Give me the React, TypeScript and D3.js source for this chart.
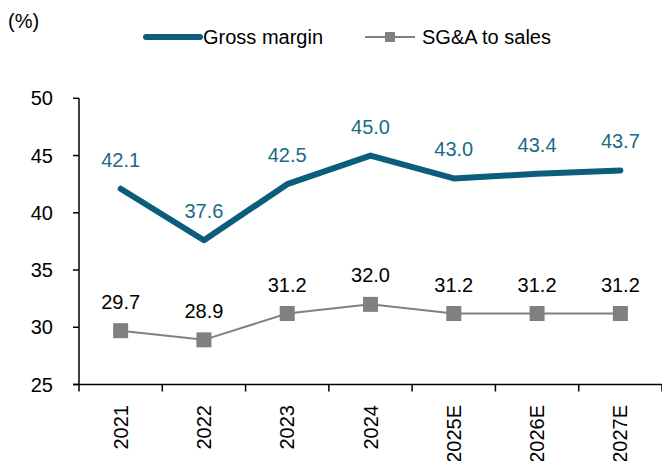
import React from "react";
import * as d3 from "d3";

const categories = ["2021", "2022", "2023", "2024", "2025E", "2026E", "2027E"];
const grossMargin = [42.1, 37.6, 42.5, 45.0, 43.0, 43.4, 43.7];
const sgaToSales = [29.7, 28.9, 31.2, 32.0, 31.2, 31.2, 31.2];
const yTicks = [25, 30, 35, 40, 45, 50];

const W = 662;
const H = 461;
const FONT = "'Liberation Sans', Arial, sans-serif";
const TEAL = "#0b5e7b";
const TEAL_LABEL = "#1b6a86";
const GRAY = "#808080";

export default function App() {
  const left = 79;
  const right = 662;
  const top = 98.3;
  const bottom = 384.5;

  const x = d3.scaleBand<string>().domain(categories).range([left, right]);
  const y = d3.scaleLinear().domain([25, 50]).range([bottom, top]);
  const cx = (c: string) => (x(c) as number) + x.bandwidth() / 2;

  const line = d3
    .line<number>()
    .x((_, i) => cx(categories[i]))
    .y((d) => y(d));

  const boundaries = categories.map((c) => x(c) as number).concat([right]);

  return (
    <svg
      width={W}
      height={H}
      style={{ position: "absolute", left: 0, top: 0, background: "#fff" }}
      fontFamily={FONT}
    >
      {/* unit label */}
      <text x={8} y={28} fontSize={20} fill="#000">(%)</text>

      {/* legend */}
      <line x1={146} x2={200} y1={37} y2={37} stroke={TEAL} strokeWidth={6} strokeLinecap="round" />
      <text x={203} y={37} dy="0.35em" fontSize={20} fill="#000">Gross margin</text>
      <line x1={365} x2={415} y1={37} y2={37} stroke={GRAY} strokeWidth={2} />
      <rect x={385} y={32} width={10} height={10} fill={GRAY} />
      <text x={422} y={37} dy="0.35em" fontSize={20} fill="#000">SG&amp;A to sales</text>

      {/* y axis */}
      <line x1={left} x2={left} y1={top} y2={bottom} stroke="#000" strokeWidth={1.5} />
      {yTicks.map((t) => (
        <g key={t}>
          <line x1={left - 6} x2={left} y1={y(t)} y2={y(t)} stroke="#000" strokeWidth={1.5} />
          <text x={53} y={y(t)} dy="0.35em" textAnchor="end" fontSize={20} fill="#000">
            {t}
          </text>
        </g>
      ))}

      {/* x axis */}
      <line x1={left - 6} x2={right} y1={bottom} y2={bottom} stroke="#000" strokeWidth={1.5} />
      {boundaries.map((b, i) => (
        <line key={i} x1={b} x2={b} y1={bottom} y2={bottom + 7} stroke="#000" strokeWidth={1.5} />
      ))}
      {categories.map((c) => (
        <text
          key={c}
          transform={`translate(${cx(c)},405) rotate(-90)`}
          dy="0.35em"
          textAnchor="end"
          fontSize={20}
          fill="#000"
        >
          {c}
        </text>
      ))}

      {/* SG&A line */}
      <path d={line(sgaToSales) || ""} fill="none" stroke={GRAY} strokeWidth={2} />
      {sgaToSales.map((v, i) => (
        <rect
          key={i}
          x={cx(categories[i]) - 7.5}
          y={y(v) - 7.5}
          width={15}
          height={15}
          fill={GRAY}
        />
      ))}
      {sgaToSales.map((v, i) => (
        <text
          key={i}
          x={cx(categories[i])}
          y={y(v) - 22}
          textAnchor="middle"
          fontSize={20}
          fill="#000"
        >
          {v.toFixed(1)}
        </text>
      ))}

      {/* Gross margin line */}
      <path
        d={line(grossMargin) || ""}
        fill="none"
        stroke={TEAL}
        strokeWidth={6}
        strokeLinecap="round"
        strokeLinejoin="round"
      />
      {grossMargin.map((v, i) => (
        <text
          key={i}
          x={cx(categories[i])}
          y={y(v) - 22}
          textAnchor="middle"
          fontSize={20}
          fill={TEAL_LABEL}
        >
          {v.toFixed(1)}
        </text>
      ))}
    </svg>
  );
}
